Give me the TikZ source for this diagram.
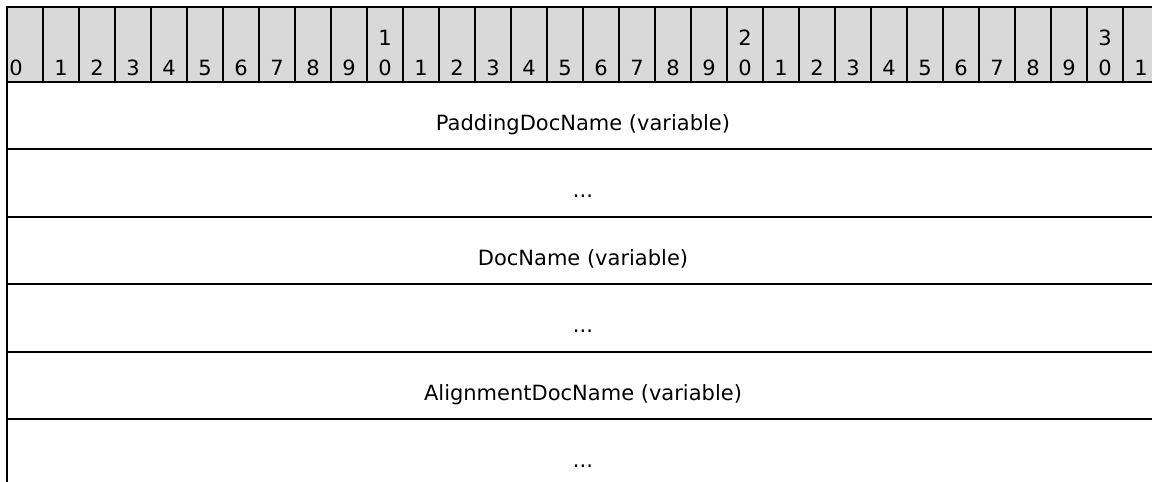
\documentclass[tikz,border=0pt]{standalone}
\usepackage{fontspec}
\setmainfont{DejaVu Sans}
\definecolor{hdr}{RGB}{217,217,217}
\begin{document}
\begin{tikzpicture}[x=1pt,y=-1pt,
  grid/.style={line width=2pt, black},
  lbl/.style={font=\fontsize{21}{30}\selectfont, anchor=base, inner sep=0pt},
  fld/.style={font=\fontsize{21}{30}\selectfont, anchor=base, inner sep=0pt}]
\useasboundingbox (0,0) rectangle (1152,482);
\clip (0,0) rectangle (1152,482);
% header band
\fill[hdr] (7,7) rectangle (1159,82);
\foreach \i in {0,...,32} \draw[grid] ({7+36*\i},7) -- ({7+36*\i},82);
\draw[grid] (6,7) -- (1160,7);
\draw[grid] (6,82) -- (1160,82);
% bit numbers
\node[lbl] (b0) at (16,75) {0};
\foreach \i in {1,...,31} {
  \pgfmathtruncatemacro{\u}{mod(\i,10)}
  \pgfmathtruncatemacro{\t}{\i/10}
  \node[lbl] (b\i) at ({25+36*\i},75) {\u};
  \ifnum\u=0
    \node[lbl] (t\i) at ({25+36*\i},45) {\t};
  \fi
}
% body rows
\draw[grid] (7,82) -- (7,490);
\foreach \y in {149.4,216.8,284.2,351.6,419,486.4} \draw[grid] (6,\y) -- (1160,\y);
\node[fld] (r1) at (583,130.4) {PaddingDocName (variable)};
\node[fld] (r2) at (583,197.8) {...};
\node[fld] (r3) at (583,265.2) {DocName (variable)};
\node[fld] (r4) at (583,332.6) {...};
\node[fld] (r5) at (583,400) {AlignmentDocName (variable)};
\node[fld] (r6) at (583,467.4) {...};
\end{tikzpicture}
\end{document}
